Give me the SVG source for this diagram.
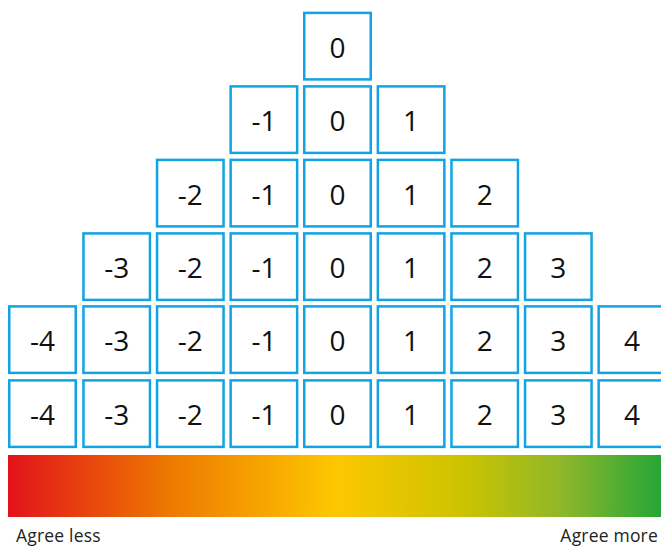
<svg xmlns="http://www.w3.org/2000/svg" width="661" height="548" viewBox="0 0 661 548">
<defs>
<linearGradient id="scale" x1="0" y1="0" x2="1" y2="0">
<stop offset="0" stop-color="#e3131b"/>
<stop offset="0.25" stop-color="#ee7a00"/>
<stop offset="0.5" stop-color="#fdc700"/>
<stop offset="0.7" stop-color="#cbc300"/>
<stop offset="0.85" stop-color="#8eb72a"/>
<stop offset="1" stop-color="#25a637"/>
</linearGradient>
</defs>
<style>
.c rect{fill:#fff;stroke:#12a3e3;stroke-width:2.5}
.c text{font-family:"Open Sans","Liberation Sans",sans-serif;font-size:28px;fill:#111;text-anchor:middle}
.lbl{font-family:"Open Sans","Liberation Sans",sans-serif;font-size:17.5px;fill:#222;letter-spacing:0.2px}
</style>
<rect width="661" height="548" fill="#fff"/>
<g id="row1">
<g id="r1c0" class="c"><rect x="304.25" y="12.9" width="66.5" height="66.5"/><text x="337.5" y="57.5">0</text></g>
</g>
<g id="row2">
<g id="r2c-1" class="c"><rect x="230.65" y="86.4" width="66.5" height="66.5"/><text x="263.9" y="131">-1</text></g>
<g id="r2c0" class="c"><rect x="304.25" y="86.4" width="66.5" height="66.5"/><text x="337.5" y="131">0</text></g>
<g id="r2c1" class="c"><rect x="377.85" y="86.4" width="66.5" height="66.5"/><text x="411.1" y="131">1</text></g>
</g>
<g id="row3">
<g id="r3c-2" class="c"><rect x="157.05" y="159.9" width="66.5" height="66.5"/><text x="190.3" y="204.5">-2</text></g>
<g id="r3c-1" class="c"><rect x="230.65" y="159.9" width="66.5" height="66.5"/><text x="263.9" y="204.5">-1</text></g>
<g id="r3c0" class="c"><rect x="304.25" y="159.9" width="66.5" height="66.5"/><text x="337.5" y="204.5">0</text></g>
<g id="r3c1" class="c"><rect x="377.85" y="159.9" width="66.5" height="66.5"/><text x="411.1" y="204.5">1</text></g>
<g id="r3c2" class="c"><rect x="451.45" y="159.9" width="66.5" height="66.5"/><text x="484.7" y="204.5">2</text></g>
</g>
<g id="row4">
<g id="r4c-3" class="c"><rect x="83.45" y="233.4" width="66.5" height="66.5"/><text x="116.7" y="278">-3</text></g>
<g id="r4c-2" class="c"><rect x="157.05" y="233.4" width="66.5" height="66.5"/><text x="190.3" y="278">-2</text></g>
<g id="r4c-1" class="c"><rect x="230.65" y="233.4" width="66.5" height="66.5"/><text x="263.9" y="278">-1</text></g>
<g id="r4c0" class="c"><rect x="304.25" y="233.4" width="66.5" height="66.5"/><text x="337.5" y="278">0</text></g>
<g id="r4c1" class="c"><rect x="377.85" y="233.4" width="66.5" height="66.5"/><text x="411.1" y="278">1</text></g>
<g id="r4c2" class="c"><rect x="451.45" y="233.4" width="66.5" height="66.5"/><text x="484.7" y="278">2</text></g>
<g id="r4c3" class="c"><rect x="525.05" y="233.4" width="66.5" height="66.5"/><text x="558.3" y="278">3</text></g>
</g>
<g id="row5">
<g id="r5c-4" class="c"><rect x="9.25" y="306.4" width="66.5" height="66.5"/><text x="42.5" y="351">-4</text></g>
<g id="r5c-3" class="c"><rect x="83.45" y="306.4" width="66.5" height="66.5"/><text x="116.7" y="351">-3</text></g>
<g id="r5c-2" class="c"><rect x="157.05" y="306.4" width="66.5" height="66.5"/><text x="190.3" y="351">-2</text></g>
<g id="r5c-1" class="c"><rect x="230.65" y="306.4" width="66.5" height="66.5"/><text x="263.9" y="351">-1</text></g>
<g id="r5c0" class="c"><rect x="304.25" y="306.4" width="66.5" height="66.5"/><text x="337.5" y="351">0</text></g>
<g id="r5c1" class="c"><rect x="377.85" y="306.4" width="66.5" height="66.5"/><text x="411.1" y="351">1</text></g>
<g id="r5c2" class="c"><rect x="451.45" y="306.4" width="66.5" height="66.5"/><text x="484.7" y="351">2</text></g>
<g id="r5c3" class="c"><rect x="525.05" y="306.4" width="66.5" height="66.5"/><text x="558.3" y="351">3</text></g>
<g id="r5c4" class="c"><rect x="598.65" y="306.4" width="66.5" height="66.5"/><text x="631.9" y="351">4</text></g>
</g>
<g id="row6">
<g id="r6c-4" class="c"><rect x="9.25" y="380.4" width="66.5" height="66.5"/><text x="42.5" y="425">-4</text></g>
<g id="r6c-3" class="c"><rect x="83.45" y="380.4" width="66.5" height="66.5"/><text x="116.7" y="425">-3</text></g>
<g id="r6c-2" class="c"><rect x="157.05" y="380.4" width="66.5" height="66.5"/><text x="190.3" y="425">-2</text></g>
<g id="r6c-1" class="c"><rect x="230.65" y="380.4" width="66.5" height="66.5"/><text x="263.9" y="425">-1</text></g>
<g id="r6c0" class="c"><rect x="304.25" y="380.4" width="66.5" height="66.5"/><text x="337.5" y="425">0</text></g>
<g id="r6c1" class="c"><rect x="377.85" y="380.4" width="66.5" height="66.5"/><text x="411.1" y="425">1</text></g>
<g id="r6c2" class="c"><rect x="451.45" y="380.4" width="66.5" height="66.5"/><text x="484.7" y="425">2</text></g>
<g id="r6c3" class="c"><rect x="525.05" y="380.4" width="66.5" height="66.5"/><text x="558.3" y="425">3</text></g>
<g id="r6c4" class="c"><rect x="598.65" y="380.4" width="66.5" height="66.5"/><text x="631.9" y="425">4</text></g>
</g>
<g id="connectors"/>
<g id="scale">
<rect x="8" y="455" width="653" height="62" fill="url(#scale)"/>
<text class="lbl" x="16" y="542">Agree less</text>
<text class="lbl" x="658" y="542" text-anchor="end">Agree more</text>
</g>
</svg>
